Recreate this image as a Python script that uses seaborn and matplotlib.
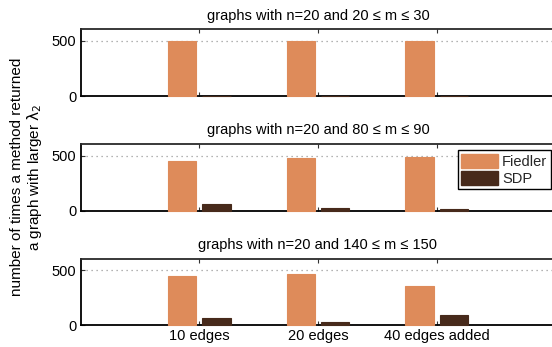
import matplotlib
matplotlib.use("Agg")
import matplotlib.pyplot as plt
import seaborn as sns
import pandas as pd
from matplotlib.patches import Patch

# Edge budgets added to each graph family
categories = ["10 edges", "20 edges", "40 edges added"]
methods = ["Fiedler", "SDP"]

panel_titles = [
    "graphs with n=20 and 20 \u2264 m \u2264 30",
    "graphs with n=20 and 80 \u2264 m \u2264 90",
    "graphs with n=20 and 140 \u2264 m \u2264 150",
]

# Wins per method, one list per panel
fiedler_wins = [
    [500, 500, 500],
    [449, 478, 491],
    [445, 470, 353],
]
sdp_wins = [
    [2, 2, 2],
    [58, 27, 12],
    [63, 33, 90],
]

palette = {"Fiedler": "#DE8B5A", "SDP": "#472A1B"}

sns.set_theme(style="white")
plt.rcParams["font.family"] = ["Liberation Sans", "DejaVu Sans"]
plt.rcParams["mathtext.fontset"] = "dejavusans"

FS = 10.5

fig = plt.figure(figsize=(5.52, 3.47), dpi=100)

W, H = 552.0, 347.0
left = 80.5 / W
width = 475.0 / W
panel_px = [(29.3, 96.0), (144.0, 210.5), (258.7, 325.3)]

axes = []
for i, (top_px, bot_px) in enumerate(panel_px):
    ax = fig.add_axes([left, 1 - bot_px / H, width, (bot_px - top_px) / H])
    df = pd.DataFrame({
        "edges": categories * 2,
        "method": ["Fiedler"] * 3 + ["SDP"] * 3,
        "wins": fiedler_wins[i] + sdp_wins[i],
    })
    sns.barplot(data=df, x="edges", y="wins", hue="method", order=categories,
                hue_order=methods, palette=palette, width=0.58, gap=0.18,
                saturation=1, legend=False, ax=ax, errorbar=None)
    for p in ax.patches:
        p.set_edgecolor(p.get_facecolor())
        p.set_linewidth(0.8)
        p.set_zorder(3)
        p.set_clip_on(False)

    ax.set_xlim(-1, 3)
    ax.set_ylim(0, 605)
    ax.set_yticks([0, 500])
    ax.set_yticklabels(["0", "500"])
    ax.set_xticks(range(len(categories)))
    if i == 2:
        ax.set_xticklabels(categories)
    else:
        ax.set_xticklabels([])
    ax.set_xlabel("")
    ax.set_ylabel("")
    ax.set_title(panel_titles[i], fontsize=FS, pad=7, color="black")

    ax.yaxis.grid(True, linestyle=(0, (1, 3)), color="#9a9a9a", linewidth=0.9)
    ax.xaxis.grid(False)
    ax.set_axisbelow(True)

    for side in ["left", "top", "bottom", "right"]:
        ax.spines[side].set_visible(True)
        ax.spines[side].set_color("black")
        ax.spines[side].set_linewidth(1.3)
    ax.spines["top"].set_color("#2a2a2a")

    ax.tick_params(axis="both", which="both", direction="in", length=3,
                   width=0.8, color="#333333", labelsize=FS, labelcolor="black",
                   top=True, right=True, bottom=True, left=True, pad=3)
    axes.append(ax)

# Legend on the middle panel
handles = [Patch(facecolor=palette[m], edgecolor=palette[m]) for m in methods]
leg = axes[1].legend(handles, methods, loc="upper right",
                     bbox_to_anchor=(551 / W, 1 - 150 / H),
                     bbox_transform=fig.transFigure, borderaxespad=0,
                     frameon=True, fancybox=False, framealpha=1,
                     edgecolor="black", fontsize=FS, handlelength=2.5,
                     handleheight=1.1, handletextpad=0.3, labelspacing=0.15,
                     borderpad=0.25)
leg.get_frame().set_linewidth(1.0)
leg.set_zorder(10)

fig.text(27 / W, 1 - 177 / H,
         "number of times a method returned\na graph with larger $\\mathrm{\\lambda}_2$",
         rotation=90, ha="center", va="center", multialignment="center",
         fontsize=11, color="black", linespacing=1.0)

fig.savefig("out.png", dpi=100)
